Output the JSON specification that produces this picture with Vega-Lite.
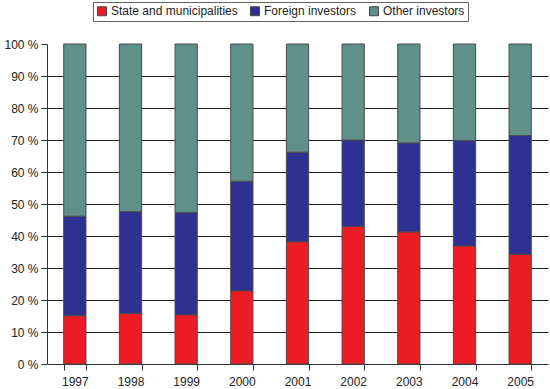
{
  "$schema": "https://vega.github.io/schema/vega-lite/v6.json",
  "width": 501,
  "height": 320,
  "autosize": {"type": "none"},
  "padding": {"left": 47, "top": 44, "right": 2, "bottom": 25},
  "background": "white",
  "config": {
    "font": "Liberation Sans",
    "view": {"stroke": null},
    "axis": {"labelFont": "Liberation Sans", "labelFontSize": 12, "labelColor": "#222"}
  },
  "data": {
    "values": [
      {"year": "1997", "series": "State and municipalities", "k": 0, "value": 15.1},
      {"year": "1997", "series": "Foreign investors", "k": 1, "value": 31.1},
      {"year": "1997", "series": "Other investors", "k": 2, "value": 53.8},
      {"year": "1998", "series": "State and municipalities", "k": 0, "value": 15.8},
      {"year": "1998", "series": "Foreign investors", "k": 1, "value": 31.8},
      {"year": "1998", "series": "Other investors", "k": 2, "value": 52.4},
      {"year": "1999", "series": "State and municipalities", "k": 0, "value": 15.4},
      {"year": "1999", "series": "Foreign investors", "k": 1, "value": 31.9},
      {"year": "1999", "series": "Other investors", "k": 2, "value": 52.7},
      {"year": "2000", "series": "State and municipalities", "k": 0, "value": 22.9},
      {"year": "2000", "series": "Foreign investors", "k": 1, "value": 34.2},
      {"year": "2000", "series": "Other investors", "k": 2, "value": 42.9},
      {"year": "2001", "series": "State and municipalities", "k": 0, "value": 38.2},
      {"year": "2001", "series": "Foreign investors", "k": 1, "value": 28.0},
      {"year": "2001", "series": "Other investors", "k": 2, "value": 33.8},
      {"year": "2002", "series": "State and municipalities", "k": 0, "value": 43.0},
      {"year": "2002", "series": "Foreign investors", "k": 1, "value": 27.0},
      {"year": "2002", "series": "Other investors", "k": 2, "value": 30.0},
      {"year": "2003", "series": "State and municipalities", "k": 0, "value": 41.3},
      {"year": "2003", "series": "Foreign investors", "k": 1, "value": 27.8},
      {"year": "2003", "series": "Other investors", "k": 2, "value": 30.9},
      {"year": "2004", "series": "State and municipalities", "k": 0, "value": 36.9},
      {"year": "2004", "series": "Foreign investors", "k": 1, "value": 32.9},
      {"year": "2004", "series": "Other investors", "k": 2, "value": 30.2},
      {"year": "2005", "series": "State and municipalities", "k": 0, "value": 34.3},
      {"year": "2005", "series": "Foreign investors", "k": 1, "value": 37.1},
      {"year": "2005", "series": "Other investors", "k": 2, "value": 28.6}
    ]
  },
  "mark": {"type": "bar", "stroke": "#4a4a4a", "strokeWidth": 1},
  "encoding": {
    "x": {
      "field": "year", "type": "nominal", "title": null,
      "scale": {"paddingInner": 0.6, "paddingOuter": 0.3},
      "axis": {
        "labelAngle": 0, "tickBand": "extent", "tickSize": 6, "tickColor": "#333",
        "domainColor": "#333", "labelPadding": 6, "grid": false
      }
    },
    "y": {
      "field": "value", "type": "quantitative", "title": null, "stack": "zero",
      "scale": {"domain": [0, 100], "nice": false},
      "axis": {
        "values": [0, 10, 20, 30, 40, 50, 60, 70, 80, 90, 100],
        "labelExpr": "datum.value + ' %'",
        "tickSize": 6, "tickColor": "#333", "domainColor": "#333",
        "labelPadding": 3,
        "grid": true,
        "gridColor": {"condition": {"test": "datum.value === 100 || datum.value === 0", "value": "transparent"}, "value": "#222"},
        "gridWidth": 1
      }
    },
    "color": {
      "field": "series", "type": "nominal", "title": null,
      "sort": ["State and municipalities", "Foreign investors", "Other investors"],
      "scale": {
        "domain": ["State and municipalities", "Foreign investors", "Other investors"],
        "range": ["#ED1C24", "#2E3192", "#5F918A"]
      },
      "legend": {
        "orient": "none", "legendX": 46, "legendY": -42, "direction": "horizontal",
        "symbolType": "square", "symbolSize": 80, "symbolStrokeColor": "#444", "symbolStrokeWidth": 1,
        "labelFontSize": 12, "labelFont": "Liberation Sans", "labelColor": "#222",
        "strokeColor": "#666", "padding": 3, "columnPadding": 10, "labelOffset": 3
      }
    },
    "order": {"field": "k", "type": "quantitative"}
  }
}
